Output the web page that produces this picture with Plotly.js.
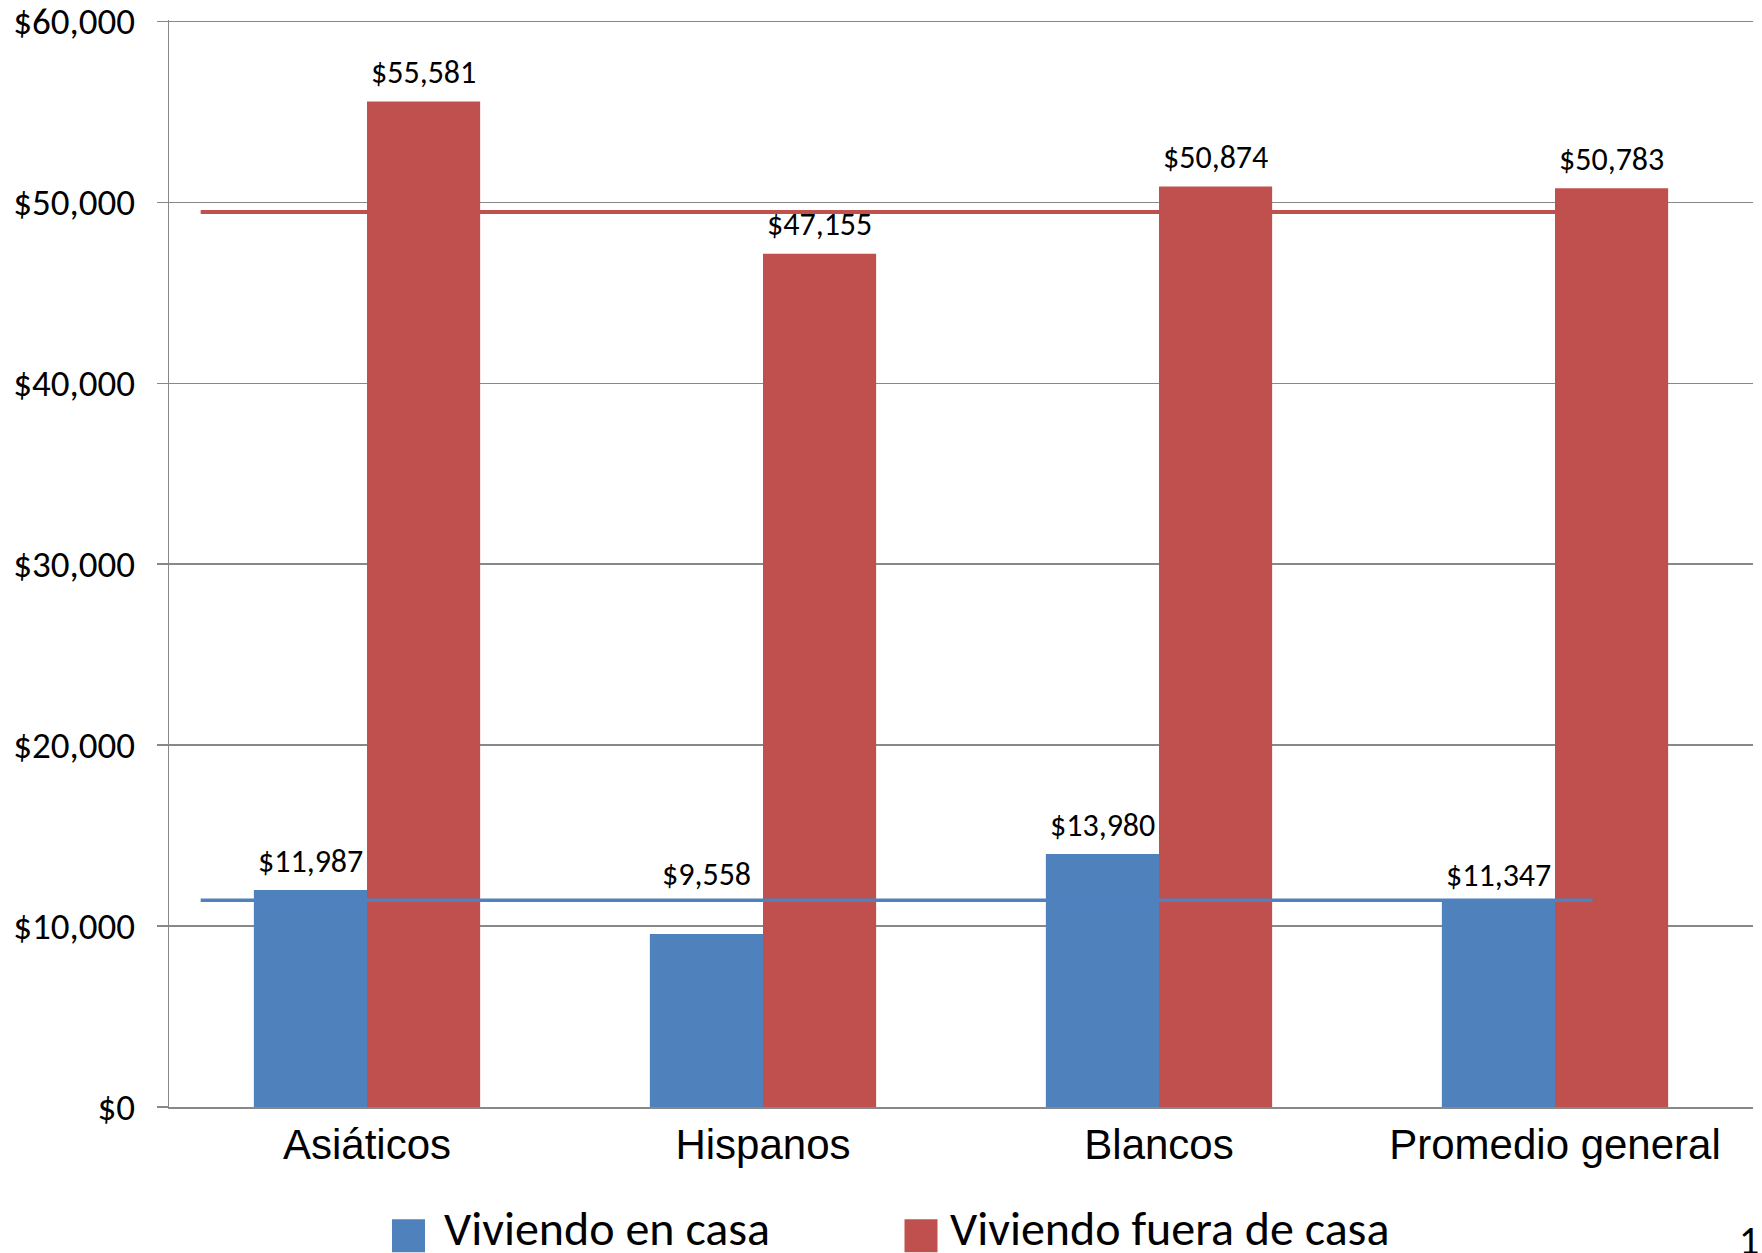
<!DOCTYPE html>
<html><head><meta charset="utf-8">
<script src="https://cdn.plot.ly/plotly-3.0.1.min.js"></script>
<style>html,body{margin:0;padding:0;background:#fff;overflow:hidden}</style>
</head><body><div id="chart" style="width:1762px;height:1253px"></div>
<script>
const categories = ['Asiáticos', 'Hispanos', 'Blancos', 'Promedio general'];
const seriesNames = ['Viviendo en casa', 'Viviendo fuera de casa'];
const livingAtHome = [11987, 9558, 13980, 11347];
const livingAway = [55581, 47155, 50874, 50783];
const referenceLines = [11425, 49470]; // blue line, red line
const yTickValues = [0, 10000, 20000, 30000, 40000, 50000, 60000];
const pageNumber = '1';

// label lift above bar top, in pixels (style only)
const labelLift = [[29, 60, 29, 26], [29, 29, 29, 29]];

const BLUE = '#4F81BD', RED = '#C0504D', GRID = '#888888';
const W = 1762, H = 1253;
const margin = {l: 169, r: 9, t: 20, b: 146, autoexpand: false};
const plotW = W - margin.l - margin.r;
const plotH = H - margin.t - margin.b;
const plotBottom = H - margin.b;
const bargap = 0.4286;
const barPx = (plotW / categories.length) * (1 - bargap) / 2;
const numFont = 'Carlito, Lato, sans-serif';
const py = px => -(px - plotBottom) / plotH; // page pixel row -> paper y

const fmt = v => '$' + v.toLocaleString('en-US');

const traces = [
  {type: 'bar', name: seriesNames[0], x: categories, y: livingAtHome,
   marker: {color: BLUE, line: {width: 0}}, hoverinfo: 'skip'},
  {type: 'bar', name: seriesNames[1], x: categories, y: livingAway,
   marker: {color: RED, line: {width: 0}}, hoverinfo: 'skip'}
];

const annotations = [];
[livingAtHome, livingAway].forEach((vals, si) => {
  vals.forEach((v, ci) => {
    annotations.push({
      x: categories[ci], y: v, xref: 'x', yref: 'y',
      text: fmt(v), showarrow: false,
      xshift: (si === 0 ? -1 : 1) * barPx / 2,
      yanchor: 'middle', yshift: labelLift[si][ci],
      font: {family: numFont, size: 32, color: '#000'}
    });
  });
});
annotations.push({
  xref: 'paper', yref: 'paper', x: (1737 - margin.l) / plotW, y: py(1214),
  xanchor: 'left', yanchor: 'top', text: pageNumber, showarrow: false,
  font: {family: numFont, size: 40, color: '#000'}
});

const shapes = [
  {type: 'line', xref: 'x', yref: 'y', x0: -0.42, x1: 3.095, y0: referenceLines[1], y1: referenceLines[1],
   line: {color: RED, width: 4}, layer: 'between'},
  {type: 'line', xref: 'x', yref: 'y', x0: -0.42, x1: 3.095, y0: referenceLines[0], y1: referenceLines[0],
   line: {color: BLUE, width: 3.5}, layer: 'above'}
];

const layout = {
  width: W, height: H, margin: margin,
  paper_bgcolor: '#fff', plot_bgcolor: '#fff',
  barmode: 'group', bargap: bargap, bargroupgap: 0,
  showlegend: true,
  legend: {
    orientation: 'h', x: (394 - margin.l) / plotW, xanchor: 'left',
    y: py(1227), yanchor: 'middle',
    font: {family: numFont, size: 48, color: '#000'},
    entrywidth: 451, entrywidthmode: 'pixels', itemwidth: 40,
    bgcolor: 'rgba(0,0,0,0)', traceorder: 'normal'
  },
  xaxis: {
    type: 'category', categoryorder: 'array', categoryarray: categories,
    showgrid: false, zeroline: false, showline: true, linecolor: GRID, linewidth: 2,
    ticks: '', ticklabelstandoff: 0, automargin: false,
    tickfont: {family: 'Liberation Sans, Arial, sans-serif', size: 42, color: '#000'}
  },
  yaxis: {
    range: [0, 60080], tickvals: yTickValues, ticktext: yTickValues.map(fmt),
    showgrid: true, gridcolor: GRID, gridwidth: 1.5,
    zeroline: false, showline: true, linecolor: GRID, linewidth: 1.5,
    ticks: 'outside', ticklen: 11, tickcolor: GRID, tickwidth: 1.5,
    ticklabelstandoff: 14, automargin: false, ticklabeloverflow: 'allow',
    tickfont: {family: numFont, size: 37, color: '#000'}
  },
  annotations: annotations,
  shapes: shapes
};

Plotly.newPlot('chart', traces, layout, {staticPlot: true, displayModeBar: false}).then(gd => {
  gd.querySelectorAll('.legend .legendpoints path').forEach((p, i) => {
    p.setAttribute('transform', 'translate(' + (i === 0 ? 14.5 : 21) + ',9) scale(2.75)');
  });
  gd.querySelectorAll('.legend [clip-path]').forEach(el => el.removeAttribute('clip-path'));
});
</script></body></html>
